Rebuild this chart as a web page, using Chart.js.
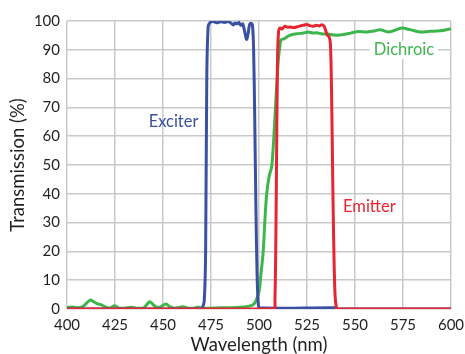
<!DOCTYPE html>
<html>
<head>
<meta charset="utf-8">
<title>Filter set transmission</title>
<script src="https://cdn.jsdelivr.net/npm/chart.js@4.4.1/dist/chart.umd.min.js"></script>
<style>
  body { margin: 0; background: #fff; }
  #wrap { width: 465px; height: 354px; }
</style>
</head>
<body>
<div id="wrap"><canvas id="filterChart" width="465" height="354"></canvas></div>
<script>
// wavelength (nm) / transmission (%)
const exciterWl = [400, 469, 470.5, 471.5, 472.2, 472.8, 473.5, 474.5, 476, 478, 480, 482, 484, 485.5, 486.6, 487.5, 488.5, 489.5, 490.5, 491.5, 492.5, 493.5, 494.3, 495, 495.8, 496.6, 497.2, 497.8, 498.4, 499, 499.6, 500.3, 540, 541, 600];
const exciterT  = [0, 0, 0.5, 3, 20, 80, 98, 99.5, 99.8, 99.4, 99.7, 99.5, 99.8, 99.2, 98.6, 99.3, 99.0, 99.5, 98.5, 99.0, 96.5, 93.6, 95.5, 98.5, 99.2, 98.5, 90, 65, 35, 12, 2, 0.4, 0.4, 0, 0];

const dichroicWl = [400, 403, 406, 409, 411, 412.3, 414, 416, 418, 420, 422, 425, 427, 430, 433.5, 436, 440, 442.9, 444.5, 446, 448, 451.6, 453.5, 456, 460.5, 463, 466, 468.4, 470, 480, 490, 495, 497, 498.5, 500, 501, 502.2, 503, 504, 505.4, 506.5, 507.3, 508, 509, 510, 510.8, 511.5, 513, 516, 520, 523, 525.6, 528, 530, 533, 536, 539.3, 543.4, 547.8, 551, 556, 560, 563, 567.3, 570, 574.2, 578.6, 583.8, 589, 594.3, 600];
const dichroicT  = [0.5, 0.7, 0.4, 1.2, 2.6, 3.1, 2.5, 1.8, 1.4, 0.7, 0.3, 1.1, 0.3, 0.3, 0.6, 0.3, 0.4, 2.5, 1.8, 0.8, 0.6, 1.7, 0.8, 0.3, 0.8, 0.3, 0.3, 0.7, 0.3, 0.4, 0.6, 1.0, 1.5, 3, 6, 12, 20, 30, 40, 46.5, 49, 55, 63, 75, 86, 91, 93.5, 93.8, 95, 95.6, 95.8, 96.2, 95.8, 95.9, 95.5, 95.5, 95.1, 95.2, 95.8, 96.3, 96.2, 96.5, 97, 96.2, 96.6, 97.6, 97, 96.2, 96.4, 96.6, 97.3];

const emitterWl = [400, 507.5, 508.3, 509, 509.6, 510.2, 511, 512, 513.5, 515, 516, 518, 520, 521.5, 523, 524.8, 526.5, 528.3, 530, 531.5, 532.7, 533.8, 534.6, 535.5, 536.5, 537.2, 537.8, 538.4, 539, 539.6, 540.3, 541, 600];
const emitterT  = [0, 0, 3, 40, 85, 96.5, 97.6, 97.2, 98.2, 97.8, 97.9, 97.7, 98.0, 98.3, 98.5, 98.8, 98.4, 98.2, 98.5, 98.3, 98.7, 98.3, 97, 95.2, 94.5, 92, 75, 45, 20, 5, 0.5, 0, 0];

const xTicks = [400, 425, 450, 475, 500, 525, 550, 575, 600];
const yTicks = [0, 10, 20, 30, 40, 50, 60, 70, 80, 90, 100];

const BLUE = "#3a51a3";
const GREEN = "#3cb54b";
const RED = "#e52631";
const TEXT = "#231f20";
const FONT = "Lato";

function toPoints(wl, t) {
    return wl.map((x, i) => ({ x: x, y: t[i] }));
}

// curve names written beside the curves, placed in data units
const curveLabels = [
    { text: "Exciter", x: 455.5, y: 65, color: BLUE, box: false },
    { text: "Dichroic", x: 575.5, y: 90, color: GREEN, box: true },
    { text: "Emitter", x: 557.5, y: 35.5, color: RED, box: false }
];

const labelPlugin = {
    id: "curveLabels",
    afterDatasetsDraw(chart) {
        const ctx = chart.ctx;
        const xs = chart.scales.x;
        const ys = chart.scales.y;
        ctx.save();
        ctx.font = "16.5px " + FONT;
        ctx.textAlign = "center";
        ctx.textBaseline = "middle";
        curveLabels.forEach(l => {
            const px = xs.getPixelForValue(l.x);
            const py = ys.getPixelForValue(l.y);
            if (l.box) {
                const w = ctx.measureText(l.text).width + 8;
                ctx.fillStyle = "#fff";
                ctx.fillRect(px - w / 2, py - 9, w, 18);
            }
            ctx.fillStyle = l.color;
            ctx.fillText(l.text, px, py);
        });
        ctx.restore();
    }
};

// fixed axis boxes so the plot area sits where the original has it
function fixBox(size) {
    return function (scale) {
        if (scale.isHorizontal()) {
            scale.height = size;
        } else {
            scale.width = size;
        }
        scale.paddingTop = 0;
        scale.paddingBottom = 0;
        scale.paddingLeft = 0;
        scale.paddingRight = 0;
    };
}

document.addEventListener("DOMContentLoaded", function () {
    const canvas = document.getElementById("filterChart");

    const line = (label, wl, t, color) => ({
        label: label,
        data: toPoints(wl, t),
        borderColor: color,
        backgroundColor: color,
        borderWidth: 3,
        pointRadius: 0,
        tension: 0.3,
        fill: false
    });

    new Chart(canvas, {
        type: "line",
        data: {
            datasets: [
                line("Emitter", emitterWl, emitterT, RED),
                line("Exciter", exciterWl, exciterT, BLUE),
                line("Dichroic", dichroicWl, dichroicT, GREEN)
            ]
        },
        options: {
            responsive: false,
            animation: false,
            layout: { padding: { top: 21, right: 14, left: 9, bottom: 0 } },
            plugins: {
                legend: { display: false },
                tooltip: { enabled: false }
            },
            scales: {
                x: {
                    type: "linear",
                    min: 400,
                    max: 600,
                    afterBuildTicks: axis => { axis.ticks = xTicks.map(v => ({ value: v })); },
                    afterFit: fixBox(45),
                    grid: { color: "#c9c9c9", lineWidth: 1.5, drawTicks: false },
                    border: { display: false },
                    ticks: { color: TEXT, font: { family: FONT, size: 15 }, padding: 7, maxRotation: 0 },
                    title: { display: true, text: "Wavelength (nm)", color: TEXT, font: { family: FONT, size: 18.5, lineHeight: 1 }, padding: { top: 0, bottom: 0 } }
                },
                y: {
                    min: 0,
                    max: 100,
                    afterBuildTicks: axis => { axis.ticks = yTicks.map(v => ({ value: v })); },
                    afterFit: fixBox(58),
                    grid: { color: "#c9c9c9", lineWidth: 1.5, drawTicks: false },
                    border: { display: false },
                    ticks: { color: TEXT, font: { family: FONT, size: 15 }, padding: 7 },
                    title: { display: true, text: "Transmission (%)", color: TEXT, font: { family: FONT, size: 18.5, lineHeight: 1 }, padding: { top: 0, bottom: 0 } }
                }
            }
        },
        plugins: [labelPlugin]
    });
});
</script>
</body>
</html>
